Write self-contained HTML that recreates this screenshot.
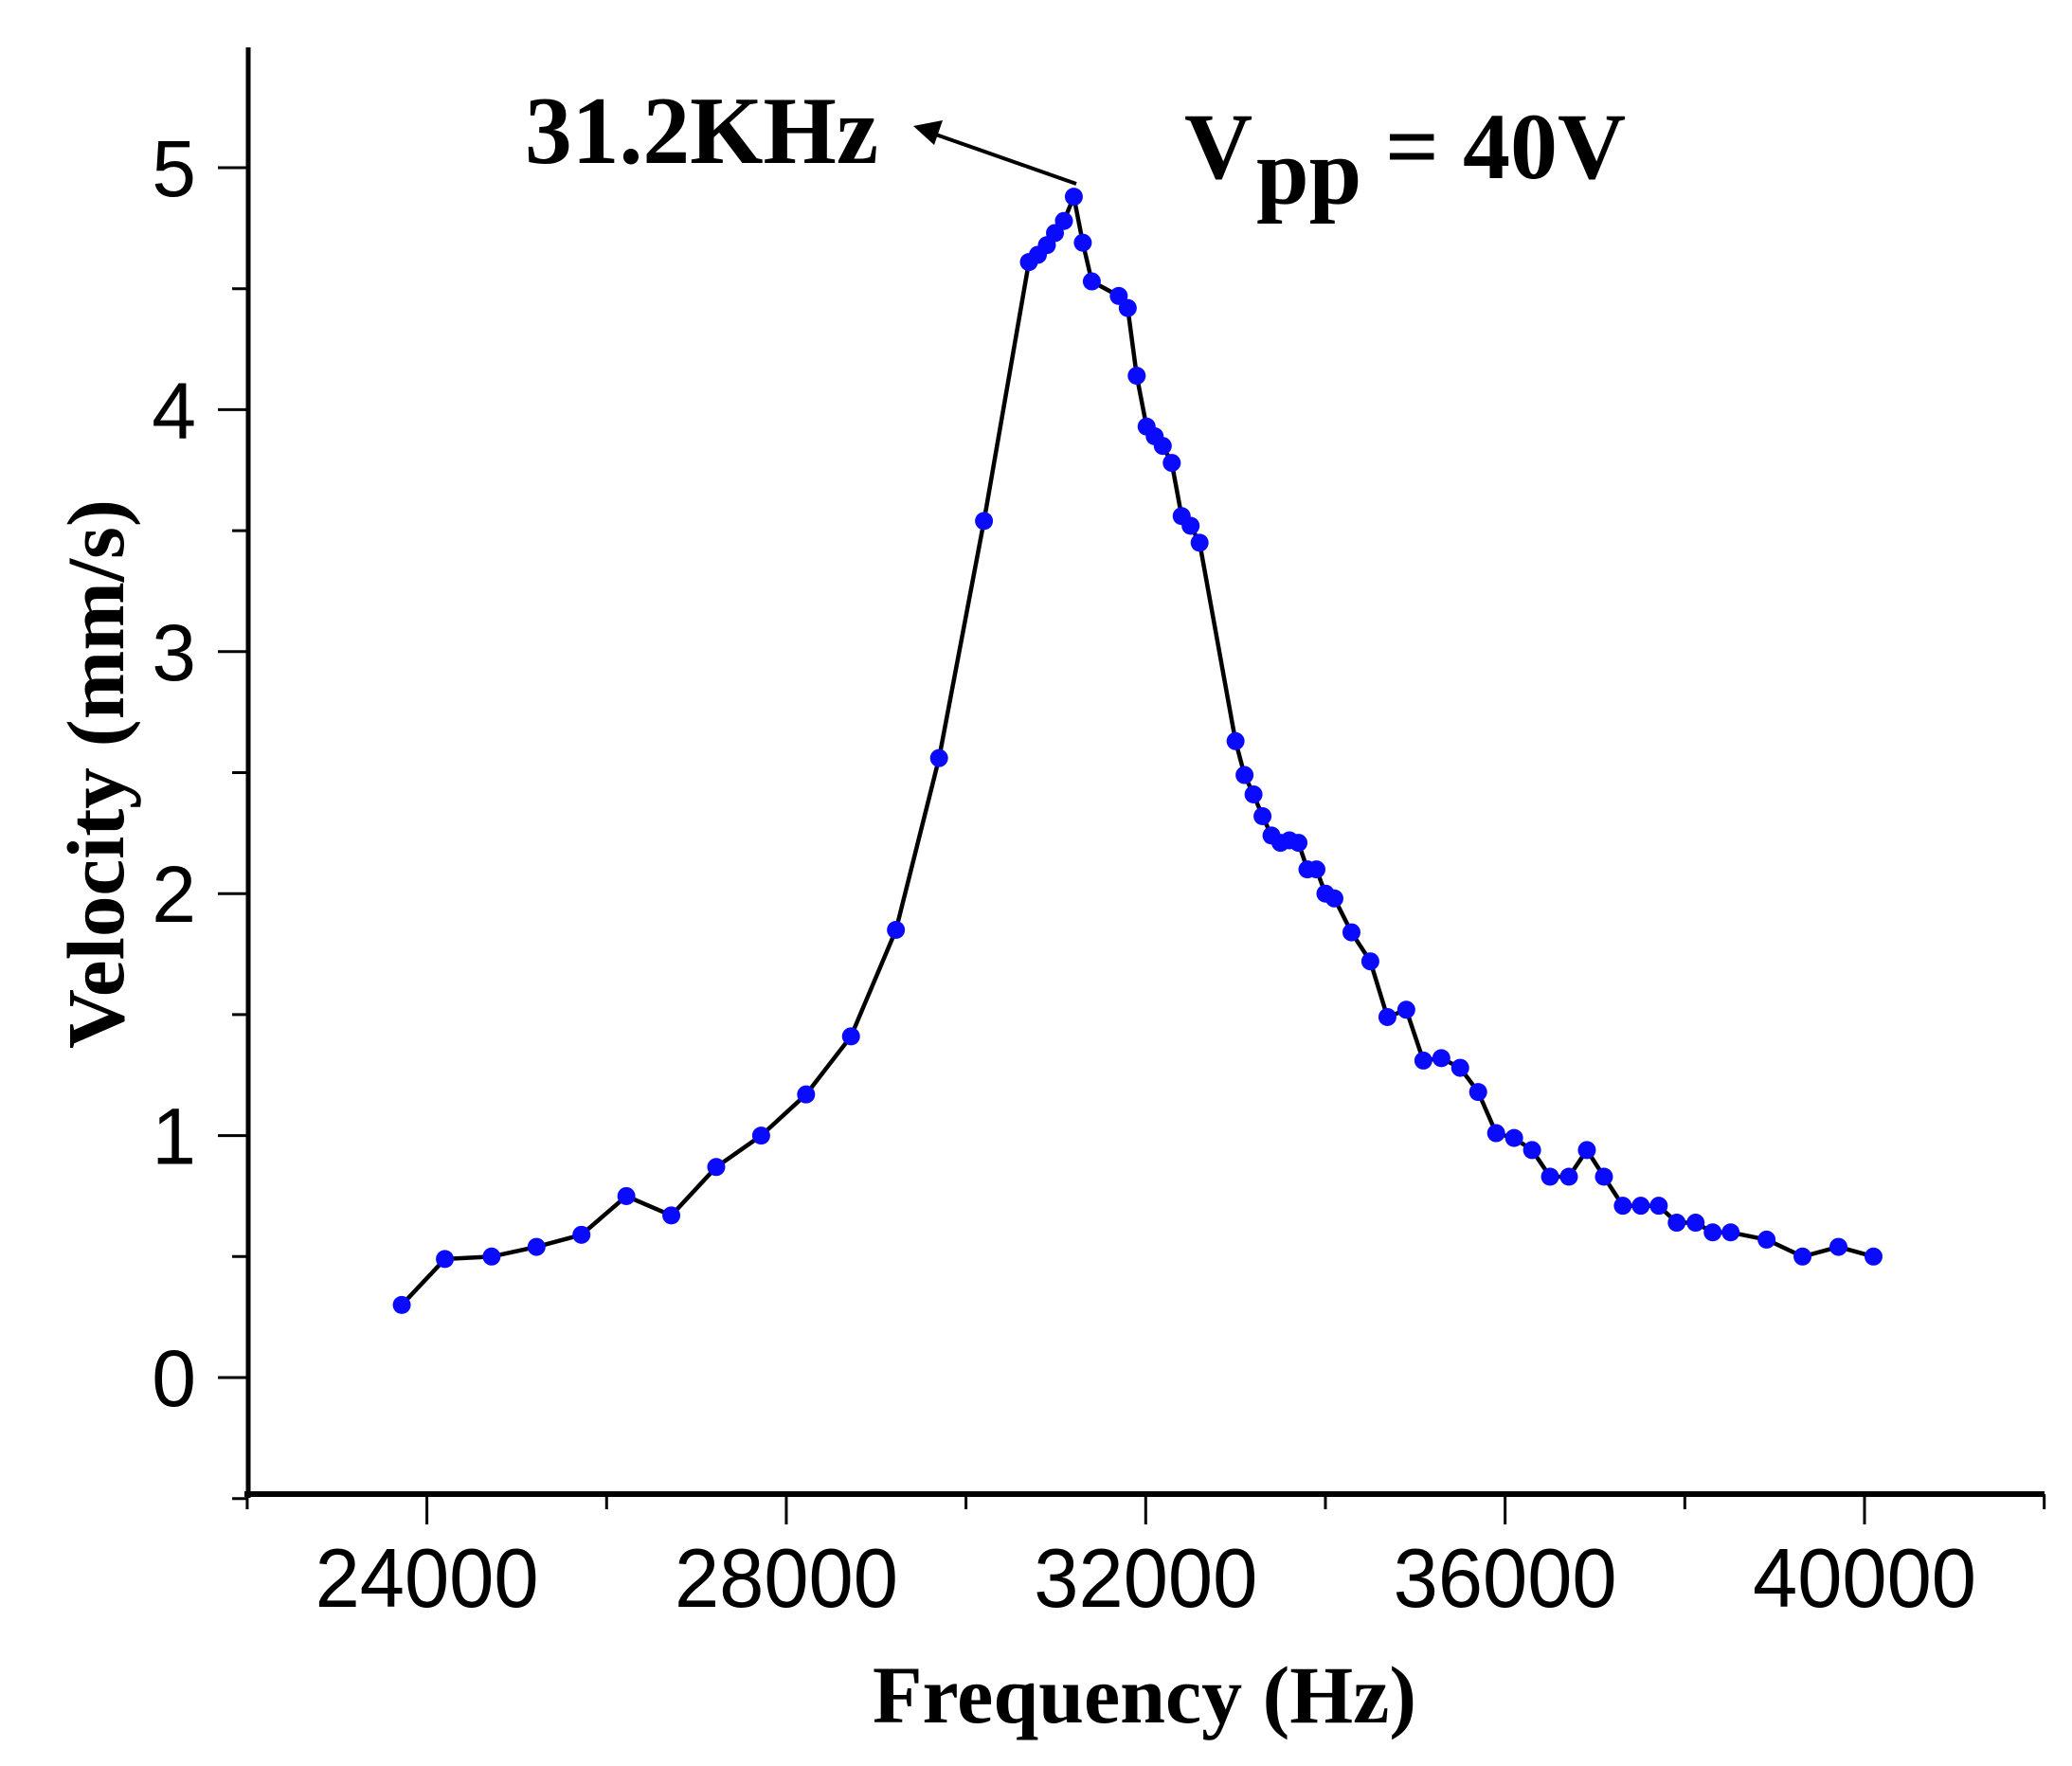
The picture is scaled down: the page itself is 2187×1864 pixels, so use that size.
<!DOCTYPE html>
<html><head><meta charset="utf-8"><style>
html,body{margin:0;padding:0;background:#fff;}
svg{display:block;}
</style></head><body>
<svg id="chart" width="2187" height="1864" viewBox="0 0 2187 1864" xmlns="http://www.w3.org/2000/svg">
<g id="axes"></g>
<g id="series"></g>
<g id="annot">
  <text x="554" y="172" font-family="Liberation Serif, serif" font-weight="bold" font-size="102" textLength="373" lengthAdjust="spacingAndGlyphs">31.2KHz</text>
  <line x1="1136" y1="194" x2="985" y2="141" stroke="#000" stroke-width="4"/>
  <polygon points="964,133 995,127 986,153" fill="#000"/>
  <text font-family="Liberation Serif, serif" font-weight="bold" font-size="100"><tspan x="1250" y="188">V</tspan><tspan x="1326" y="215">pp</tspan><tspan x="1462" y="188">= 40V</tspan></text>
  <text x="921" y="1818" font-family="Liberation Serif, serif" font-weight="bold" font-size="86" textLength="574" lengthAdjust="spacingAndGlyphs">Frequency (Hz)</text>
  <text transform="translate(130,817) rotate(-90)" text-anchor="middle" font-family="Liberation Serif, serif" font-weight="bold" font-size="86" textLength="580" lengthAdjust="spacingAndGlyphs">Velocity (mm/s)</text>
</g>
</svg>
<script>
const freqs = [23720,24200,24720,25220,25720,26220,26720,27220,27720,28220,28720,29220,29700,30200,30700,30800,30900,30990,31090,31200,31300,31400,31700,31800,31900,32010,32100,32190,32290,32400,32500,32600,33000,33100,33200,33300,33400,33500,33600,33700,33800,33900,34000,34100,34290,34500,34690,34900,35090,35290,35500,35700,35900,36100,36300,36500,36710,36910,37100,37310,37510,37710,37910,38120,38310,38510,38910,39310,39710,40100];
const velocities = [0.30,0.49,0.50,0.54,0.59,0.75,0.67,0.87,1.00,1.17,1.41,1.85,2.56,3.54,4.61,4.64,4.68,4.73,4.78,4.88,4.69,4.53,4.47,4.42,4.14,3.93,3.89,3.85,3.78,3.56,3.52,3.45,2.63,2.49,2.41,2.32,2.24,2.21,2.22,2.21,2.10,2.10,2.00,1.98,1.84,1.72,1.49,1.52,1.31,1.32,1.28,1.18,1.01,0.99,0.94,0.83,0.83,0.94,0.83,0.71,0.71,0.71,0.64,0.64,0.60,0.60,0.57,0.50,0.54,0.50];
const xTicks = [24000,28000,32000,36000,40000];
const yTicks = [0,1,2,3,4,5];

const NS = "http://www.w3.org/2000/svg";
const xMin=22000,xMax=42000,yMin=-0.5,yMax=5.5;
const L=262,R=2158,B=1577,T=50;
function sx(v){return 450.6+(v-24000)*(1968-450.6)/16000;}
function sy(v){return 1454-v*255.4;}
function mk(tag,attrs,parent){const e=document.createElementNS(NS,tag);for(const k in attrs)e.setAttribute(k,attrs[k]);parent.appendChild(e);return e;}
const axes=document.getElementById('axes');
const series=document.getElementById('series');

let e;
e=mk('line',{x1:L,y1:T,x2:L,y2:B+4,stroke:'#000','stroke-width':5},axes);


e=mk('line',{x1:L-4,y1:B,x2:R,y2:B,stroke:'#000','stroke-width':6},axes);



for(let v=xMin; v<=xMax; v+=2000){
  const major = xTicks.indexOf(v)>=0;
  e=mk('line',{x1:sx(v),y1:B,x2:sx(v),y2:B+(major?32:16),stroke:'#000','stroke-width':3},axes);
  
  
}
xTicks.forEach(v=>{
  const t=mk('text',{x:sx(v),y:1696,'text-anchor':'middle','font-family':'Liberation Sans, sans-serif','font-size':88,textLength:236,lengthAdjust:'spacingAndGlyphs'},axes);
  t.textContent=v;
  
  
});
for(let v=yMin; v<=5.01; v+=0.5){
  const major = Math.abs(v-Math.round(v))<1e-6;
  e=mk('line',{x1:L-(major?32:17),y1:sy(v),x2:L,y2:sy(v),stroke:'#000','stroke-width':3},axes);
  
  
}
yTicks.forEach(v=>{
  const t=mk('text',{x:207,y:sy(v)+30,'text-anchor':'end','font-family':'Liberation Sans, sans-serif','font-size':84},axes);
  t.textContent=v;
  
  
});

const pts=freqs.map((f,i)=>sx(f).toFixed(1)+','+sy(velocities[i]).toFixed(1)).join(' ');
e=mk('polyline',{points:pts,fill:'none',stroke:'#000','stroke-width':4.5,'stroke-linejoin':'round'},series);


freqs.forEach((f,i)=>{
  const c=mk('circle',{cx:sx(f),cy:sy(velocities[i]),r:9.5,fill:'#0a0aff'},series);
  
  
});
</script>
</body></html>
